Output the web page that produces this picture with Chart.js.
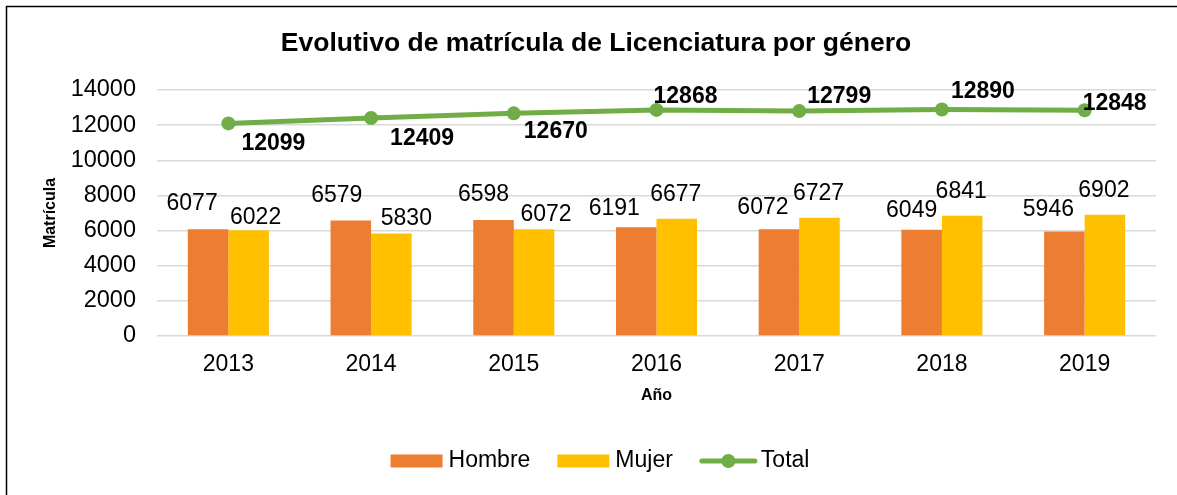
<!DOCTYPE html>
<html>
<head>
<meta charset="utf-8">
<script src="https://cdn.jsdelivr.net/npm/chart.js@4.4.0/dist/chart.umd.min.js"></script>
<style>
  html, body { margin: 0; padding: 0; background: #fff; }
  canvas { display: block; }
</style>
</head>
<body>
<canvas id="matricula" width="1177" height="495"></canvas>
<script>
const years = ['2013', '2014', '2015', '2016', '2017', '2018', '2019'];
const hombre = [6077, 6579, 6598, 6191, 6072, 6049, 5946];
const mujer = [6022, 5830, 6072, 6677, 6727, 6841, 6902];
const total = [12099, 12409, 12670, 12868, 12799, 12890, 12848];
const yTicks = [0, 2000, 4000, 6000, 8000, 10000, 12000, 14000];

// label nudges in px, measured from the bar top / point centre
const hombreShift = [[-16, -26], [-14, -25], [-10, -25], [-22, -19], [-16, -22], [-10, -19], [-16, -22]];
const mujerShift = [[7, -13], [15, -15], [12, -15], [-1, -24], [-1, -24], [-1, -24], [-1, -24]];
const totalShift = [[45, 20], [51, 21], [42, 18], [29, -13], [40, -14], [41, -18], [30, -7]];

const FONT = "'Liberation Sans', Arial, sans-serif";
Chart.defaults.font.family = FONT;
Chart.defaults.color = '#000';

// white page + the frame line on the left and top
const frame = {
  id: 'frame',
  beforeDraw(chart) {
    const ctx = chart.ctx;
    ctx.save();
    ctx.fillStyle = '#fff';
    ctx.fillRect(0, 0, chart.width, chart.height);
    ctx.strokeStyle = '#000';
    ctx.lineWidth = 1.5;
    ctx.beginPath();
    ctx.moveTo(6.5, chart.height);
    ctx.lineTo(6.5, 6.5);
    ctx.lineTo(chart.width, 6.5);
    ctx.stroke();
    ctx.restore();
  }
};

// value labels above bars and next to the total points
const valueLabels = {
  id: 'valueLabels',
  afterDatasetsDraw(chart) {
    const ctx = chart.ctx;
    ctx.save();
    ctx.textAlign = 'center';
    ctx.textBaseline = 'middle';
    ctx.fillStyle = '#000';
    chart.data.datasets.forEach((ds, i) => {
      const meta = chart.getDatasetMeta(i);
      ctx.font = (ds.type === 'line' ? 'bold ' : '') + '23px ' + FONT;
      meta.data.forEach((el, j) => {
        const [dx, dy] = ds.labelShift[j];
        ctx.fillText(String(ds.data[j]), el.x + dx, el.y + dy);
      });
    });
    ctx.restore();
  }
};

// legend row under the axis title
const bottomLegend = {
  id: 'bottomLegend',
  afterDraw(chart) {
    const ctx = chart.ctx;
    const cy = chart.height - 34;
    ctx.save();
    ctx.font = '23px ' + FONT;
    ctx.textBaseline = 'middle';
    ctx.textAlign = 'left';
    const items = chart.data.datasets.map(ds => {
      const isLine = ds.type === 'line';
      return {
        ds,
        isLine,
        sw: isLine ? 57 : 52,
        gap: isLine ? 4 : 6,
        tw: ctx.measureText(ds.label).width
      };
    });
    const spacing = 27;
    let width = 0;
    items.forEach((it, k) => { width += it.sw + it.gap + it.tw + (k ? spacing : 0); });
    let x = 600 - width / 2;
    items.forEach(it => {
      if (it.isLine) {
        ctx.strokeStyle = it.ds.borderColor;
        ctx.lineWidth = 5;
        ctx.lineCap = 'round';
        ctx.beginPath();
        ctx.moveTo(x + 2, cy);
        ctx.lineTo(x + it.sw - 2, cy);
        ctx.stroke();
        ctx.fillStyle = it.ds.borderColor;
        ctx.beginPath();
        ctx.arc(x + it.sw / 2, cy, 7, 0, Math.PI * 2);
        ctx.fill();
      } else {
        ctx.fillStyle = it.ds.backgroundColor;
        ctx.fillRect(x, cy - 6.5, it.sw, 13);
      }
      x += it.sw + it.gap;
      ctx.fillStyle = '#000';
      ctx.fillText(it.ds.label, x, cy);
      x += it.tw + spacing;
    });
    ctx.restore();
  }
};

new Chart(document.getElementById('matricula'), {
  type: 'bar',
  data: {
    labels: years,
    datasets: [
      {
        label: 'Hombre',
        data: hombre,
        labelShift: hombreShift,
        backgroundColor: '#ED7D31',
        order: 1
      },
      {
        label: 'Mujer',
        data: mujer,
        labelShift: mujerShift,
        backgroundColor: '#FFC000',
        order: 1
      },
      {
        type: 'line',
        label: 'Total',
        data: total,
        labelShift: totalShift,
        borderColor: '#70AD47',
        backgroundColor: '#70AD47',
        borderWidth: 5,
        pointRadius: 7,
        pointBorderWidth: 0,
        pointBackgroundColor: '#70AD47',
        tension: 0,
        order: 0
      }
    ]
  },
  options: {
    responsive: false,
    devicePixelRatio: 1,
    animation: false,
    datasets: {
      bar: { barPercentage: 1, categoryPercentage: 0.568, borderWidth: 0 }
    },
    layout: { padding: { left: 36, right: 21, top: 0, bottom: 89 } },
    plugins: {
      legend: { display: false },
      tooltip: { enabled: false },
      title: {
        display: true,
        text: 'Evolutivo de matrícula de Licenciatura por género',
        font: { size: 26.5, weight: 'bold', lineHeight: 1.2 },
        color: '#000',
        padding: { top: 28.1, bottom: 30.1 }
      }
    },
    scales: {
      x: {
        grid: { display: false, drawTicks: false },
        border: { display: false },
        ticks: { font: { size: 23 }, padding: 15 },
        title: {
          display: true,
          text: 'Año',
          font: { size: 16, weight: 'bold' },
          padding: { top: 0, bottom: 0.5 }
        },
        afterFit(scale) { scale.height = 70; }
      },
      y: {
        min: 0,
        max: 14000,
        afterBuildTicks(scale) { scale.ticks = yTicks.map(v => ({ value: v })); },
        grid: { color: '#d9d9d9', lineWidth: 1.5, drawTicks: false },
        border: { display: false },
        ticks: { font: { size: 23.5 }, padding: 21, callback: v => String(v) },
        title: {
          display: true,
          text: 'Matrícula',
          font: { size: 16, weight: 'bold' },
          padding: { top: 4.5, bottom: 0 }
        },
        afterFit(scale) { scale.width = 121; }
      }
    }
  },
  plugins: [frame, valueLabels, bottomLegend]
});
</script>
</body>
</html>
